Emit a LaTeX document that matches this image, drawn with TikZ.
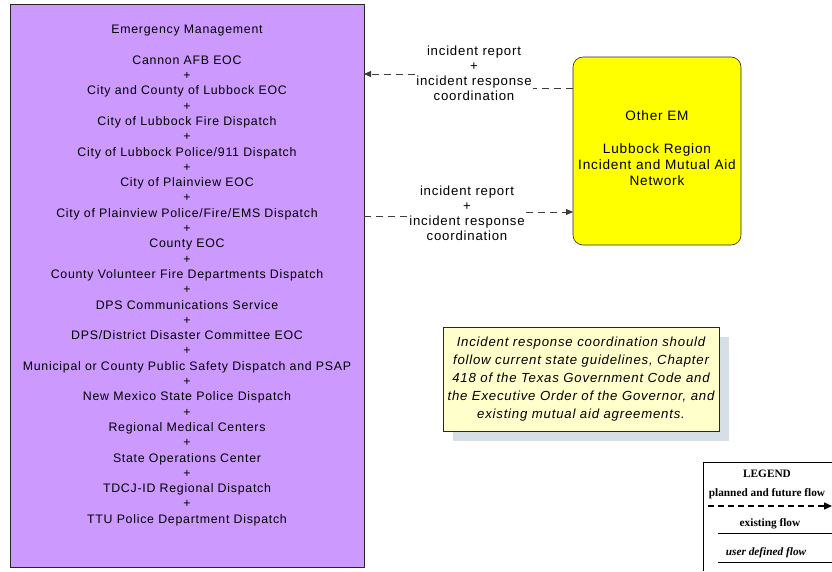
\documentclass[tikz,border=0pt]{standalone}
\usepackage{fontspec}
\setmainfont[LetterSpace=6]{Liberation Sans}
\newfontfamily\legendfont{Liberation Serif}
\usetikzlibrary{arrows.meta}
\definecolor{emPurple}{RGB}{204,153,255}
\definecolor{emYellow}{RGB}{255,255,0}
\definecolor{noteFill}{RGB}{255,255,204}
\definecolor{noteShadow}{RGB}{214,222,230}
\definecolor{flowGray}{RGB}{60,60,60}
\begin{document}
\begin{tikzpicture}[x=1pt,y=-1pt,
  flow/.style={draw=flowGray, dash pattern=on 7pt off 5pt, line width=0.8pt},
  tipend/.style={-{Triangle[length=7pt,width=6pt]}},
  elem/.style={draw=black!85, line width=0.6pt, inner sep=0pt, outer sep=0pt, anchor=north west},
  txt/.style={align=center, inner sep=0pt, font=\fontsize{12.35}{15.3}\selectfont},
  flowlabel/.style={align=center, inner sep=1pt, font=\fontsize{13.2}{15}\selectfont},
  legendtxt/.style={inner sep=0pt, font=\legendfont\bfseries\fontsize{11.3}{13}\selectfont}]
\useasboundingbox (0,0) rectangle (832,571);

% Emergency Management box
\node[elem, fill=emPurple, minimum width=354pt, minimum height=563pt] (P) at (10,4) {};
\node[txt] (Ptext) at (187,275.5) {Emergency Management\\[15.3pt]
Cannon AFB EOC\\+\\
City and County of Lubbock EOC\\+\\
City of Lubbock Fire Dispatch\\+\\
City of Lubbock Police/911 Dispatch\\+\\
City of Plainview EOC\\+\\
City of Plainview Police/Fire/EMS Dispatch\\+\\
County EOC\\+\\
County Volunteer Fire Departments Dispatch\\+\\
DPS Communications Service\\+\\
DPS/District Disaster Committee EOC\\+\\
Municipal or County Public Safety Dispatch and PSAP\\+\\
New Mexico State Police Dispatch\\+\\
Regional Medical Centers\\+\\
State Operations Center\\+\\
TDCJ-ID Regional Dispatch\\+\\
TTU Police Department Dispatch};

% Other EM box
\node[elem, fill=emYellow, rounded corners=10pt, minimum width=168pt, minimum height=188pt] (Y) at (573,57) {};
\node[txt, font=\fontsize{13.6}{16.3}\selectfont] (Ytext) at (657,148.5) {Other EM\\[16.3pt]Lubbock Region\\Incident and Mutual Aid\\Network};

% Flow labels
\node[flowlabel] (L1) at (474,73.5) {incident report\\+\\incident response\\coordination};
\node[flowlabel] (L2) at (467,213) {incident report\\+\\incident response\\coordination};

\coordinate (c1) at (600,88);
\coordinate (c2) at (300,74);
\coordinate (c3) at (300,216);
\coordinate (c4) at (600,212);

% Flow 1: Other EM -> Emergency Management
\draw[flow] (Y.west |- c1) -- (L1.east |- c1);
\draw[flow, tipend] (L1.west |- c2) -- (P.east |- c2);
% Flow 2: Emergency Management -> Other EM
\draw[flow] (P.east |- c3) -- (L2.west |- c3);
\draw[flow, tipend] (L2.east |- c4) -- (Y.west |- c4);

% Note with shadow
\fill[noteShadow] (453,337) rectangle (729,441);
\node[elem, fill=noteFill, minimum width=276pt, minimum height=104pt] (N) at (443,327) {};
\node[txt, font=\itshape\fontsize{13.2}{17.8}\selectfont] (Ntext) at (N.center) {Incident response coordination should\\follow current state guidelines, Chapter\\418 of the Texas Government Code and\\the Executive Order of the  Governor, and\\existing mutual aid agreements.};

% Legend
\draw[black, line width=0.8pt] (703,571) -- (703,462) -- (832,462);
\node[legendtxt] (lg) at (767,474) {LEGEND};
\node[legendtxt] (lp) at (767,494) {planned and future flow};
\coordinate (lpa) at (708,506);
\coordinate (lpb) at (832,506);
\draw[black, line width=1.4pt, dash pattern=on 6pt off 4pt, -{Triangle[length=8pt,width=7pt]}] (lpa) -- (lpb);
\node[legendtxt] (le) at (770,524) {existing flow};
\coordinate (lea) at (718,533);
\coordinate (leb) at (832,533);
\draw[black, line width=0.8pt] (lea) -- (leb);
\node[legendtxt, font=\legendfont\bfseries\itshape\fontsize{11.3}{13}\selectfont] (lu) at (766,553) {user defined flow};
\coordinate (lua) at (718,562);
\coordinate (lub) at (832,562);
\draw[black, line width=0.8pt] (lua) -- (lub);
\end{tikzpicture}
\end{document}
